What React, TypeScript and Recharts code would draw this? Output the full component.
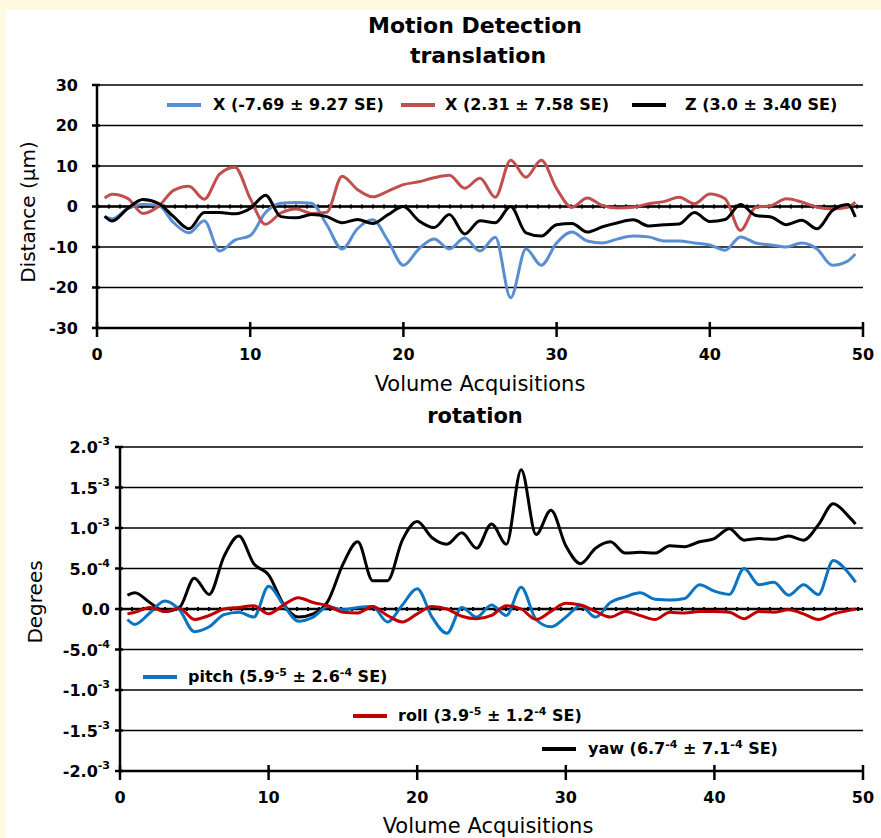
import React from "react";
import {
  LineChart,
  Line,
  XAxis,
  YAxis,
  CartesianGrid,
  ReferenceLine,
} from "recharts";

const FONT = '"DejaVu Sans", sans-serif';

// x positions (volume acquisitions)
const acquisitions = [
  0.5, 1, 2, 3, 4, 5, 6, 7, 8, 9, 10, 11, 12, 13, 14, 15, 16, 17, 18, 19, 20,
  21, 22, 23, 24, 25, 26, 27, 28, 29, 30, 31, 32, 33, 34, 35, 36, 37, 38, 39, 40,
  41, 42, 43, 44, 45, 46, 47, 48, 49, 49.5,
];

// translation, µm
const transX1 = [
  -2.5,
  -3.0, -0.5, 0.5, 0.3, -4.0, -6.5, -3.5, -11.0, -8.3, -7.2,
  -1.5, 0.8, 1.0, 0.8, -4.5, -10.5, -5.5, -3.3, -8.5, -14.5,
  -10.5, -8.0, -10.5, -7.8, -11.0, -7.6, -22.5, -10.5, -14.5, -9.0,
  -6.3, -8.5, -9.0, -8.0, -7.3, -7.5, -8.5, -8.5, -9.0, -9.5,
  -10.8, -7.5, -9.0, -9.5, -10.0, -9.0, -10.5, -14.5, -13.5,
  -11.7,
];
const transX2 = [
  2.1,
  3.0, 2.0, -1.7, 0.0, 4.0, 5.0, 1.8, 8.0, 9.7, 2.0,
  -4.4, -1.6, -0.6, -1.7, -1.4, 7.5, 4.2, 2.4, 3.8, 5.4,
  6.1, 7.1, 7.7, 4.5, 7.0, 2.3, 11.4, 7.2, 11.4, 4.4,
  -0.2, 2.1, 0.2, -0.4, -0.2, 0.7, 1.2, 2.3, 0.7, 3.1,
  1.9, -5.9, -0.2, 0.2, 1.9, 1.1, -0.2, -0.6, -0.2,
  1.1,
];
const transZ = [
  -2.4,
  -3.6, -0.5, 1.7, 0.8, -2.5, -5.5, -1.5, -1.5, -1.8, -0.5,
  2.8, -2.5, -2.8, -2.0, -2.5, -4.0, -3.2, -4.2, -2.0, 0.0,
  -3.5, -5.2, -2.0, -6.8, -3.5, -4.0, 0.0, -6.5, -7.3, -4.5,
  -4.2, -6.3, -5.0, -4.0, -3.3, -4.8, -4.5, -4.3, -1.5, -3.7,
  -3.2, 0.5, -2.2, -2.6, -4.5, -3.4, -5.5, -1.0, 0.5,
  -2.6,
];

// rotation, in units of 1e-4 degrees
const pitch = [
  -1.3,
  -1.9, -0.5, 1.0, -0.1, -2.8, -2.2, -0.7, -0.4, -1.0, 2.8,
  0.5, -1.5, -1.0, 0.3, -0.1, 0.2, 0.3, -1.6, 0.5, 2.5,
  -1.0, -3.0, 0.2, -1.0, 0.5, -0.8, 2.7, -1.3, -2.2, -1.0,
  0.4, -1.0, 0.8, 1.5, 2.0, 1.2, 1.1, 1.3, 3.0, 2.2,
  1.8, 5.0, 3.0, 3.3, 1.7, 3.0, 1.8, 6.0, 4.5,
  3.3,
];
const roll = [
  -0.6,
  -0.4, 0.2, -0.3, 0.1, -1.3, -0.8, 0.0, 0.2, 0.4, -0.6,
  0.5, 1.4, 0.8, 0.4, -0.4, -0.5, 0.3, -0.8, -1.6, -0.6,
  0.3, 0.0, -0.9, -1.2, -0.8, 0.4, 0.0, -1.3, -0.3, 0.7,
  0.5, -0.3, -1.0, -0.3, -0.8, -1.3, -0.4, -0.5, -0.3, -0.3,
  -0.4, -1.2, -0.3, -0.4, -0.1, -0.6, -1.3, -0.6, -0.2,
  0.0,
];
const yaw = [
  1.7,
  2.0, 0.8, -0.3, 0.2, 3.8, 1.8, 6.5, 9.0, 5.6, 4.2,
  0.6, -1.0, -0.6, 1.0, 5.5, 8.3, 3.5, 3.5, 8.5, 10.8,
  8.8, 8.0, 9.4, 7.5, 10.5, 8.0, 17.2, 9.2, 12.2, 7.8,
  5.6, 7.5, 8.3, 6.9, 7.0, 6.9, 7.8, 7.7, 8.3, 8.7,
  9.9, 8.5, 8.7, 8.6, 9.0, 8.5, 10.4, 13.0, 11.5,
  10.5,
];

const xTicks = [0, 10, 20, 30, 40, 50];
const transTicks = [-30, -20, -10, 0, 10, 20, 30];
const rotTicks = [-20, -15, -10, -5, 0, 5, 10, 15, 20];
const rotTickLabels: Record<number, [string, string]> = {
  20: ["2.0", "-3"],
  15: ["1.5", "-3"],
  10: ["1.0", "-3"],
  5: ["5.0", "-4"],
  0: ["0.0", ""],
  [-5]: ["-5.0", "-4"],
  [-10]: ["-1.0", "-3"],
  [-15]: ["-1.5", "-3"],
  [-20]: ["-2.0", "-3"],
};

const transData = acquisitions.map((v, i) => ({
  v,
  x1: transX1[i],
  x2: transX2[i],
  z: transZ[i],
}));
const rotData = acquisitions.map((v, i) => ({
  v,
  pitch: pitch[i],
  roll: roll[i],
  yaw: yaw[i],
}));

const XTick = ({ x, y, payload }: any) => (
  <g>
    <line x1={x} x2={x} y1={y - 6} y2={y + 9} stroke="#000" strokeWidth={2.5} />
    <text
      x={x}
      y={y + 26}
      textAnchor="middle"
      dominantBaseline="central"
      fontFamily={FONT}
      fontWeight="bold"
      fontSize={16}
      fill="#000"
    >
      {payload.value}
    </text>
  </g>
);

const TransYTick = ({ x, y, payload }: any) => (
  <g>
    <line x1={x - 5} x2={x + 3} y1={y} y2={y} stroke="#000" strokeWidth={2.5} />
    <text
      x={x - 19}
      y={y}
      textAnchor="end"
      dominantBaseline="central"
      fontFamily={FONT}
      fontWeight="bold"
      fontSize={16}
      fill="#000"
    >
      {payload.value}
    </text>
  </g>
);

const RotYTick = ({ x, y, payload }: any) => {
  const [main, sup] = rotTickLabels[payload.value] || [String(payload.value), ""];
  return (
    <g>
      <line x1={x - 5} x2={x + 3} y1={y} y2={y} stroke="#000" strokeWidth={2.5} />
      <text
        x={x - 10}
        y={y + 6}
        textAnchor="end"
        fontFamily={FONT}
        fontWeight="bold"
        fontSize={16}
        fill="#000"
      >
        {main}
        {sup && (
          <tspan fontSize={11} dy={-8}>
            {sup}
          </tspan>
        )}
      </text>
    </g>
  );
};

const abs = (style: React.CSSProperties): React.CSSProperties => ({
  position: "absolute",
  whiteSpace: "nowrap",
  lineHeight: 1,
  fontFamily: FONT,
  color: "#000",
  ...style,
});

const Centered = ({ x, y, size, bold, children }: any) => (
  <div
    style={abs({
      left: x,
      top: y,
      fontSize: size,
      fontWeight: bold ? "bold" : "normal",
      transform: "translate(-50%, -50%)",
    })}
  >
    {children}
  </div>
);

const Vertical = ({ x, y, size, children }: any) => (
  <div
    style={abs({
      left: x,
      top: y,
      fontSize: size,
      transform: "translate(-50%, -50%) rotate(-90deg)",
    })}
  >
    {children}
  </div>
);

const LegendItem = ({ x, y, color, textX, size, children }: any) => (
  <>
    <div style={abs({ left: x, top: y - 2, width: 34, height: 4, background: color })} />
    <div
      style={abs({
        left: textX,
        top: y,
        fontSize: size,
        fontWeight: "bold",
        transform: "translateY(-50%)",
      })}
    >
      {children}
    </div>
  </>
);

const Sup = ({ children }: any) => (
  <span style={{ fontSize: 11, position: "relative", top: -6 }}>{children}</span>
);

export default function App() {
  return (
    <div
      style={{
        position: "absolute",
        left: 0,
        top: 0,
        width: 881,
        height: 838,
        background: "#FEFBE2",
        overflow: "hidden",
      }}
    >
      <div style={{ position: "absolute", left: 6, top: 10, width: 875, height: 828, background: "#fff" }} />

      {/* translation */}
      <div style={{ position: "absolute", left: 0, top: 0 }}>
        <LineChart
          width={881}
          height={400}
          data={transData}
          margin={{ top: 85, right: 18, left: 0, bottom: 0 }}
        >
          <CartesianGrid vertical={false} stroke="#000" strokeWidth={1.3} />
          <XAxis
            dataKey="v"
            type="number"
            domain={[0, 50]}
            ticks={xTicks}
            interval={0}
            height={72}
            tickSize={0}
            tickMargin={0}
            tickLine={false}
            axisLine={{ stroke: "#000", strokeWidth: 2.5 }}
            tick={<XTick />}
          />
          <YAxis
            type="number"
            domain={[-30, 30]}
            ticks={transTicks}
            interval={0}
            width={97}
            tickSize={0}
            tickMargin={0}
            tickLine={false}
            axisLine={{ stroke: "#000", strokeWidth: 2.5 }}
            tick={<TransYTick />}
          />
          <ReferenceLine y={0} stroke="#000" strokeWidth={2.5} />
          <ReferenceLine y={0} stroke="#000" strokeWidth={4} strokeDasharray="2 9" />
          <Line type="monotone" dataKey="x1" stroke="#5A8ED3" strokeWidth={3} dot={false} isAnimationActive={false} />
          <Line type="monotone" dataKey="x2" stroke="#C0504D" strokeWidth={3} dot={false} isAnimationActive={false} />
          <Line type="monotone" dataKey="z" stroke="#000" strokeWidth={3} dot={false} isAnimationActive={false} />
        </LineChart>
      </div>

      {/* rotation */}
      <div style={{ position: "absolute", left: 0, top: 400 }}>
        <LineChart
          width={881}
          height={438}
          data={rotData}
          margin={{ top: 47, right: 18, left: 0, bottom: 0 }}
        >
          <CartesianGrid vertical={false} stroke="#000" strokeWidth={1.3} />
          <XAxis
            dataKey="v"
            type="number"
            domain={[0, 50]}
            ticks={xTicks}
            interval={0}
            height={67}
            tickSize={0}
            tickMargin={0}
            tickLine={false}
            axisLine={{ stroke: "#000", strokeWidth: 2.5 }}
            tick={<XTick />}
          />
          <YAxis
            type="number"
            domain={[-20, 20]}
            ticks={rotTicks}
            interval={0}
            width={120}
            tickSize={0}
            tickMargin={0}
            tickLine={false}
            axisLine={{ stroke: "#000", strokeWidth: 2.5 }}
            tick={<RotYTick />}
          />
          <ReferenceLine y={0} stroke="#000" strokeWidth={2.5} />
          <ReferenceLine y={0} stroke="#000" strokeWidth={4} strokeDasharray="2 9" />
          <Line type="monotone" dataKey="yaw" stroke="#000" strokeWidth={3} dot={false} isAnimationActive={false} />
          <Line type="monotone" dataKey="pitch" stroke="#0A74C4" strokeWidth={3} dot={false} isAnimationActive={false} />
          <Line type="monotone" dataKey="roll" stroke="#C00000" strokeWidth={3} dot={false} isAnimationActive={false} />
        </LineChart>
      </div>

      {/* titles and axis labels */}
      <Centered x={475} y={26} size={22} bold>Motion Detection</Centered>
      <Centered x={478} y={56} size={22} bold>translation</Centered>
      <Centered x={480} y={384} size={21}>Volume Acquisitions</Centered>
      <Centered x={475} y={416} size={21} bold>rotation</Centered>
      <Centered x={488} y={826} size={21}>Volume Acquisitions</Centered>
      <Vertical x={28} y={212} size={20}>Distance (µm)</Vertical>
      <Vertical x={35} y={602} size={20}>Degrees</Vertical>

      {/* translation legend */}
      <LegendItem x={167} y={105} color="#5A8ED3" textX={213} size={16}>X (-7.69 ± 9.27 SE)</LegendItem>
      <LegendItem x={401} y={105} color="#C0504D" textX={445} size={16}>X (2.31 ± 7.58 SE)</LegendItem>
      <LegendItem x={632} y={105} color="#000" textX={685} size={16}>Z (3.0 ± 3.40 SE)</LegendItem>

      {/* rotation legend */}
      <LegendItem x={143} y={677} color="#0A74C4" textX={188} size={16}>
        pitch (5.9<Sup>-5</Sup> ± 2.6<Sup>-4</Sup> SE)
      </LegendItem>
      <LegendItem x={353} y={716} color="#C00000" textX={398} size={16}>
        roll (3.9<Sup>-5</Sup> ± 1.2<Sup>-4</Sup> SE)
      </LegendItem>
      <LegendItem x={542} y={749} color="#000" textX={588} size={16}>
        yaw (6.7<Sup>-4</Sup> ± 7.1<Sup>-4</Sup> SE)
      </LegendItem>
    </div>
  );
}
